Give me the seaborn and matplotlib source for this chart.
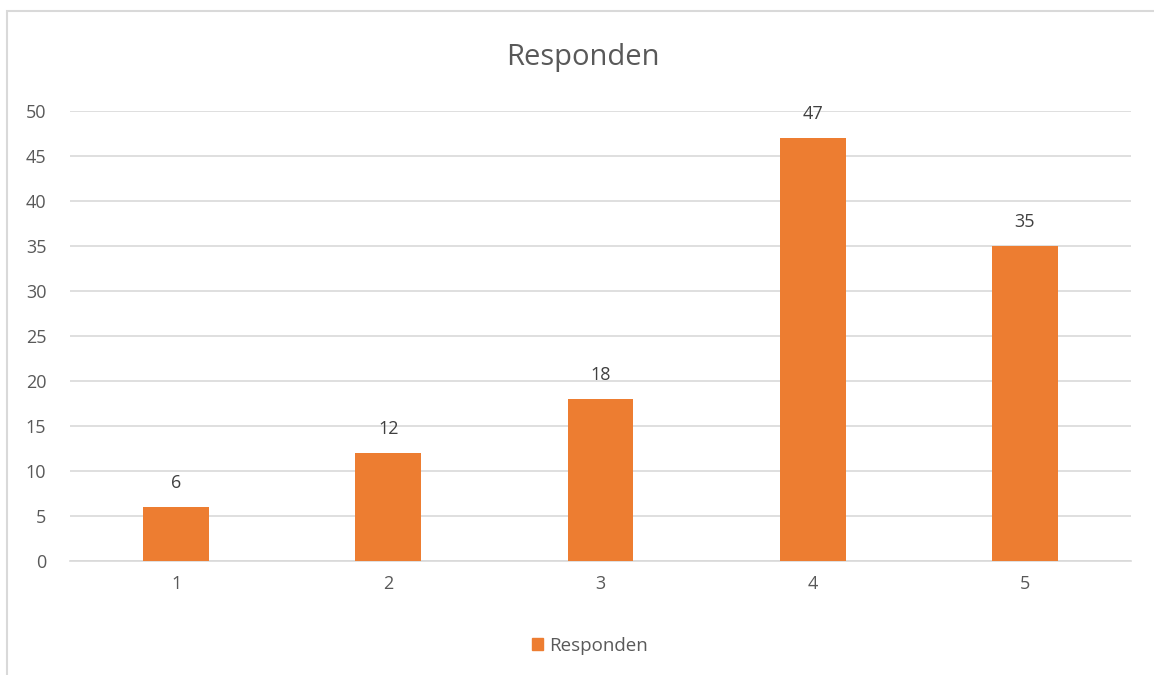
import matplotlib
matplotlib.use("Agg")
import matplotlib.pyplot as plt
import matplotlib.patches as mpatches
import seaborn as sns
import pandas as pd

categories = ["1", "2", "3", "4", "5"]
values = [6, 12, 18, 47, 35]
series_name = "Responden"
y_ticks = [0, 5, 10, 15, 20, 25, 30, 35, 40, 45, 50]

BAR_COLOR = "#ED7D31"
TEXT_COLOR = "#595959"
GRID_COLOR = "#D9D9D9"

sns.set_theme(style="white")
plt.rcParams["font.family"] = ["Open Sans", "DejaVu Sans"]

W, H = 1154, 675
fig = plt.figure(figsize=(W / 100, H / 100), dpi=100)

# chart area border
fig.patches.append(mpatches.Rectangle((7 / W, -0.05), 1.2, 1 - 11 / H + 0.05,
                                      transform=fig.transFigure, fill=False,
                                      edgecolor=GRID_COLOR, linewidth=1.5))

ax = fig.add_axes([70 / W, 1 - 561 / H, (1131 - 70) / W, (561 - 111) / H])

df = pd.DataFrame({"cat": categories, "val": values})
sns.barplot(data=df, x="cat", y="val", color=BAR_COLOR, width=0.31,
            saturation=1, linewidth=0, edgecolor="none", ax=ax, zorder=3)

ax.set_ylim(0, 50)
ax.set_yticks(y_ticks)
ax.set_xlim(-0.5, len(categories) - 0.5)
ax.yaxis.grid(True, color=GRID_COLOR, linewidth=1.2, zorder=0)
ax.set_axisbelow(True)
for s in ["top", "right", "left"]:
    ax.spines[s].set_visible(False)
ax.spines["bottom"].set_color(GRID_COLOR)
ax.spines["bottom"].set_linewidth(1.2)
ax.tick_params(axis="both", length=0, labelsize=13, colors=TEXT_COLOR)
ax.tick_params(axis="y", pad=17)
ax.tick_params(axis="x", pad=10)
ax.set_xlabel("")
ax.set_ylabel("")

for i, v in enumerate(values):
    ax.annotate(str(v), (i, v), xytext=(0, 11), textcoords="offset points",
                ha="center", va="bottom", fontsize=13, color="#404040")

fig.text(583 / W, 1 - 57 / H, series_name, ha="center", va="center",
         fontsize=21, color=TEXT_COLOR)

handle = mpatches.Patch(color=BAR_COLOR, label=series_name)
fig.legend(handles=[handle], loc="center", bbox_to_anchor=(590 / W, 1 - 646 / H),
           frameon=False, fontsize=13.5, labelcolor=TEXT_COLOR,
           handlelength=0.6, handleheight=0.6, handletextpad=0.3)

fig.savefig("out.png", dpi=100)
